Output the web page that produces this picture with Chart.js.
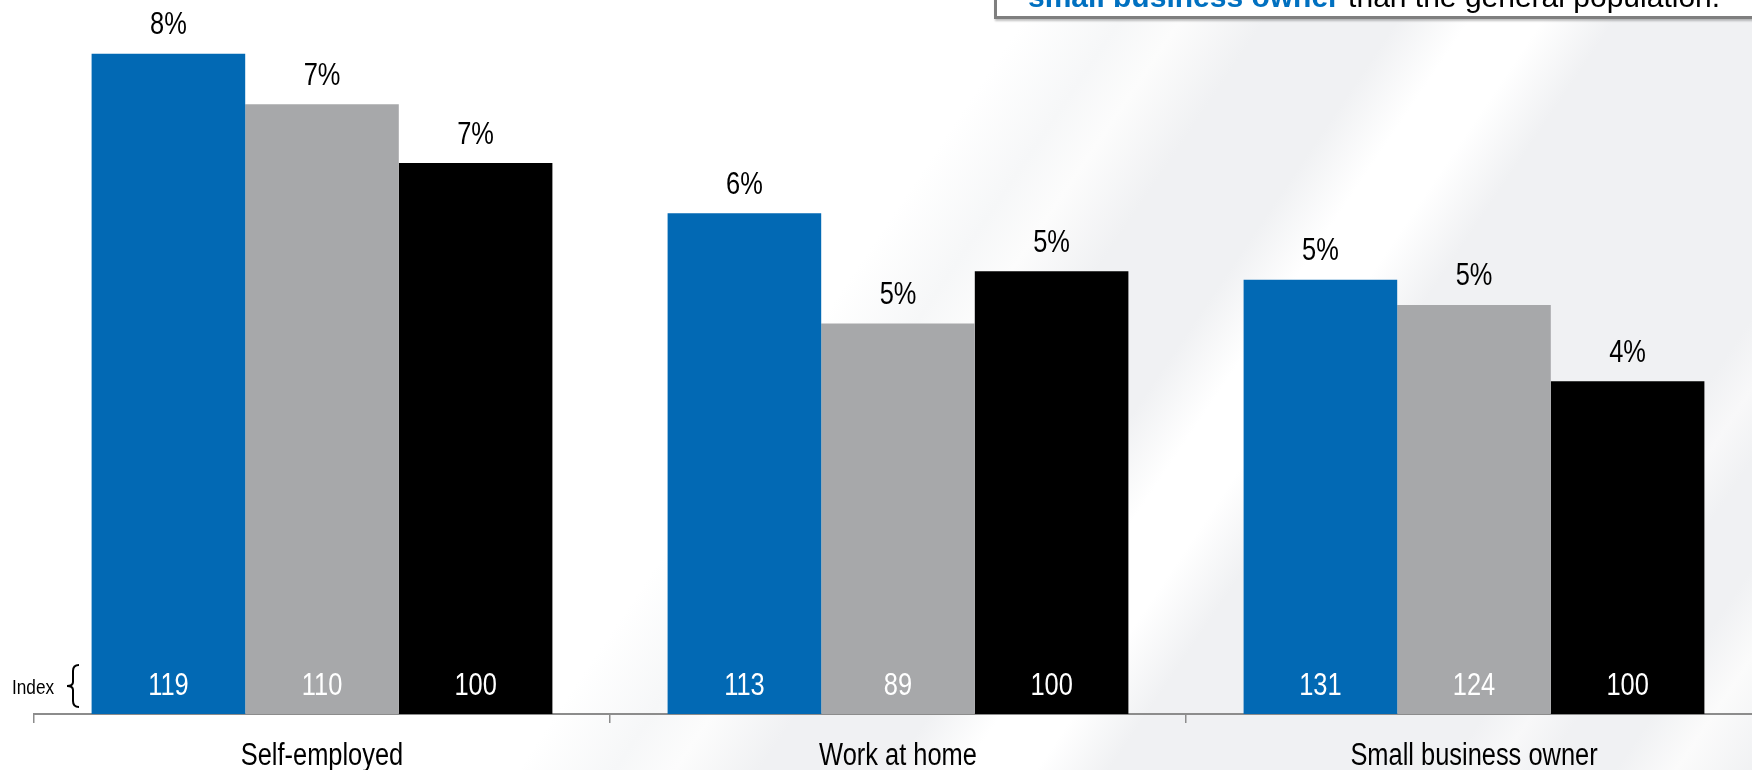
<!DOCTYPE html>
<html>
<head>
<meta charset="utf-8">
<script src="https://cdn.jsdelivr.net/npm/chart.js@4.4.1/dist/chart.umd.min.js"></script>
<style>
  html, body { margin: 0; padding: 0; }
  body {
    width: 1752px; height: 770px; overflow: hidden; position: relative;
    background: linear-gradient(124deg, #fff 0, #fff 860px, #f6f7f8 940px, #fcfcfc 990px,
      #f0f1f3 1060px, #f0f1f3 1170px, #fff 1230px, #fff 1290px, #f0f1f3 1350px,
      #f0f1f3 1630px, #f8f8f9 1670px, #f0f1f3 1710px, #f0f1f3 1770px, #fbfbfb 1820px, #f0f1f3 1885px);
  }
  .wrap { position: absolute; left: 0; top: 0; width: 1764px; height: 770px; }
  .note {
    position: absolute; left: 994px; top: -64px; width: 800px; height: 83px;
    box-sizing: border-box; border: 3px solid #7f7f7f; background: #fff;
    box-shadow: 1px 2px 2px rgba(0,0,0,0.25);
  }
  .note p {
    position: absolute; left: 31px; top: 43px; margin: 0; white-space: nowrap;
    font: 30px/30px "Liberation Sans", Arial, sans-serif; color: #000;
  }
  .note b { color: #0070c0; }
</style>
</head>
<body>
<div class="wrap"><canvas id="chartJobs"></canvas></div>
<div class="note"><p><b>small business owner</b> than the general population.</p></div>
<script>
const categories = ['Self-employed', 'Work at home', 'Small business owner'];
const seriesNames = ['Group 1', 'Group 2', 'General population'];
const blueValues = [7.86, 5.96, 5.17];
const grayValues = [7.26, 4.65, 4.87];
const blackValues = [6.56, 5.27, 3.96];
const blueIndex = [119, 113, 131];
const grayIndex = [110, 89, 124];
const blackIndex = [100, 100, 100];

const indexes = [blueIndex, grayIndex, blackIndex];

// Arial Narrow look: Liberation Sans squeezed horizontally
function narrowText(ctx, text, x, y, size, align) {
  ctx.save();
  ctx.translate(x, y);
  ctx.scale(0.82, 1);
  ctx.font = size + 'px "Liberation Sans", Arial, sans-serif';
  ctx.textAlign = align || 'center';
  ctx.textBaseline = 'middle';
  ctx.fillText(text, 0, 0);
  ctx.restore();
}

const barLabels = {
  id: 'barLabels',
  afterDatasetsDraw(chart) {
    const ctx = chart.ctx;
    ctx.save();
    chart.data.datasets.forEach((ds, i) => {
      chart.getDatasetMeta(i).data.forEach((bar, j) => {
        ctx.fillStyle = '#000';
        narrowText(ctx, Math.round(ds.data[j]) + '%', bar.x, bar.y - 28, 31);
        ctx.fillStyle = '#fff';
        narrowText(ctx, String(indexes[i][j]), bar.x, bar.base - 28, 31);
      });
    });
    // category names under the axis
    const xs = chart.scales.x;
    ctx.fillStyle = '#000';
    categories.forEach((c, k) => narrowText(ctx, c, xs.getPixelForValue(k), 756, 31));
    // "Index" note with brace
    narrowText(ctx, 'Index', 12, 688, 21, 'left');
    ctx.strokeStyle = '#000';
    ctx.lineWidth = 2;
    ctx.beginPath();
    ctx.moveTo(79, 665);
    ctx.quadraticCurveTo(73, 665, 73, 671);
    ctx.lineTo(73, 682);
    ctx.quadraticCurveTo(73, 686, 67, 686);
    ctx.quadraticCurveTo(73, 686, 73, 690);
    ctx.lineTo(73, 701);
    ctx.quadraticCurveTo(73, 707, 79, 707);
    ctx.stroke();
    ctx.restore();
  }
};

new Chart(document.getElementById('chartJobs'), {
  type: 'bar',
  data: {
    labels: categories,
    datasets: [
      { label: seriesNames[0], data: blueValues, backgroundColor: '#0269b4' },
      { label: seriesNames[1], data: grayValues, backgroundColor: '#a7a8aa' },
      { label: seriesNames[2], data: blackValues, backgroundColor: '#000000' }
    ]
  },
  options: {
    responsive: true,
    maintainAspectRatio: false,
    animation: false,
    layout: { padding: { left: 34, right: 2, top: 0, bottom: 0 } },
    datasets: { bar: { categoryPercentage: 0.8, barPercentage: 1 } },
    plugins: { legend: { display: false }, tooltip: { enabled: false } },
    scales: {
      x: {
        offset: true,
        grid: { offset: true, drawOnChartArea: false, tickLength: 9, color: '#8c8c8c', lineWidth: 1.5 },
        border: { display: true, color: '#8c8c8c', width: 2 },
        ticks: { display: false },
        afterFit(scale) { scale.height = 56; }
      },
      y: { display: false, min: 0, max: 8.5 }
    }
  },
  plugins: [barLabels]
});
</script>
</body>
</html>
